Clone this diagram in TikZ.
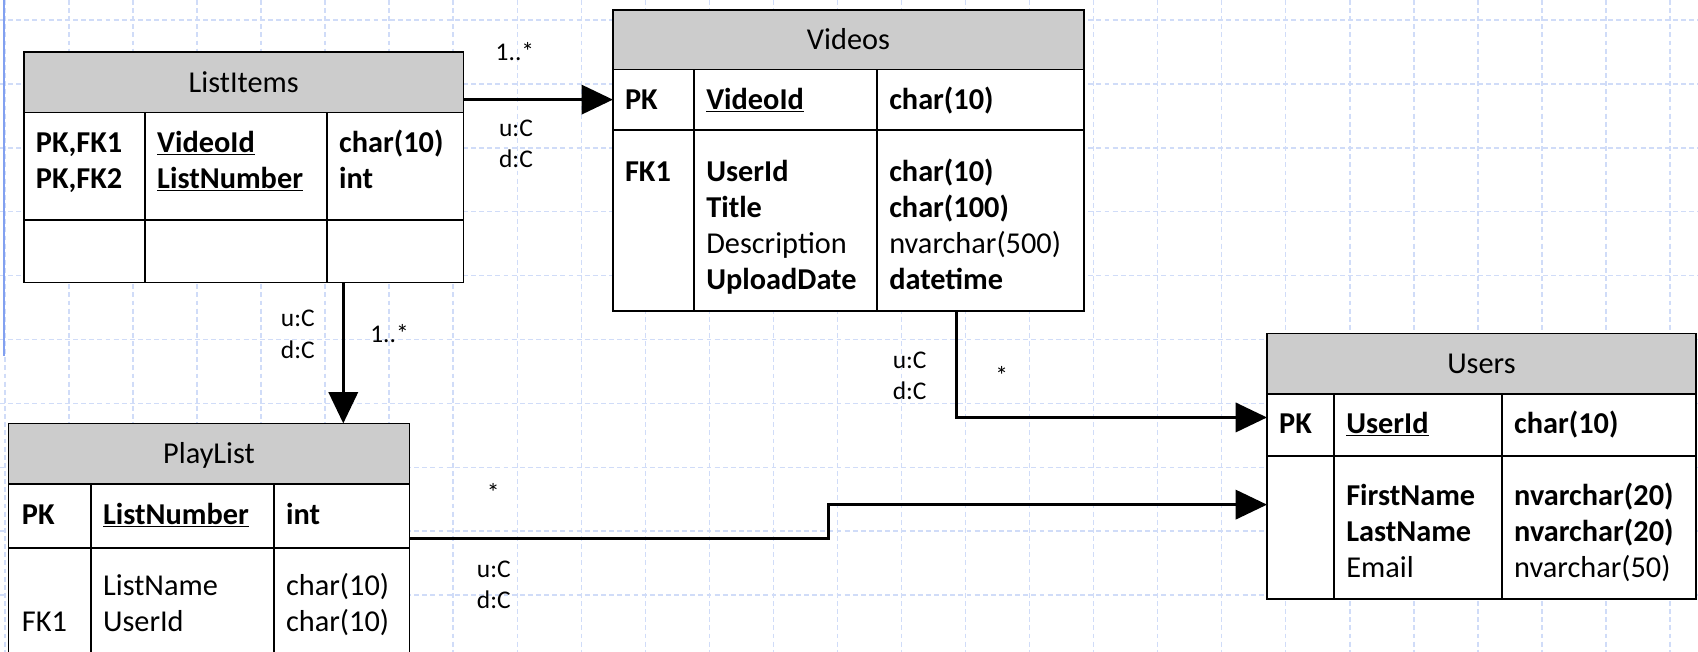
\documentclass[tikz,border=0pt]{standalone}
\usepackage{fontspec}
\setmainfont{Carlito}
\usetikzlibrary{arrows.meta}

\definecolor{headgray}{RGB}{204,204,204}
\definecolor{gridblue}{RGB}{208,220,248}
\definecolor{rulerblue}{RGB}{130,160,240}

\tikzset{
  cell/.style={draw, fill=white, line width=1.4pt, anchor=north west, inner sep=0pt, outer sep=0pt},
  head/.style={cell, fill=headgray, text height=18pt, text depth=0pt, font=\fontsize{28}{33}\selectfont},
  txt/.style={anchor=base west, inner sep=0pt, font=\fontsize{28}{33}\selectfont},
  key/.style={txt, font=\fontsize{28}{33}\selectfont\bfseries},
  lbl/.style={inner sep=0pt, align=left, font=\fontsize{23.5}{29}\selectfont},
  fk/.style={line width=2.8pt, -{Triangle[length=29pt,width=27pt]}},
  gridline/.style={draw=gridblue, line width=1.3pt, dash pattern=on 4.5pt off 3pt}
}

\begin{document}
\begin{tikzpicture}[x=1pt, y=-1pt]
\useasboundingbox (0,0) rectangle (1568,602);
\clip (0,0) rectangle (1568,602);
\fill[white] (0,0) rectangle (1568,602);

% page grid
\foreach \gx in {0,...,26}
  \draw[gridline] ({4.5+59.14*\gx},0) -- ({4.5+59.14*\gx},602);
\foreach \gy in {0,...,9}
  \draw[gridline] (0,{18.5+59*\gy}) -- (1568,{18.5+59*\gy});
\draw[rulerblue, line width=2pt] (3.7,0) -- (3.7,329);

% ListItems
\node[head, minimum width=406pt, minimum height=56pt] (li-head) at (22,48) {ListItems};
\node[cell, minimum width=112pt, minimum height=99pt] (li-k1) at (22,104) {};
\node[cell, minimum width=168pt, minimum height=99pt] (li-n1) at (134,104) {};
\node[cell, minimum width=126pt, minimum height=99pt] (li-t1) at (302,104) {};
\node[cell, minimum width=112pt, minimum height=58pt] (li-k2) at (22,203) {};
\node[cell, minimum width=168pt, minimum height=58pt] (li-n2) at (134,203) {};
\node[cell, minimum width=126pt, minimum height=58pt] (li-t2) at (302,203) {};
\node[key] (li-a) at (33,141) {PK,FK1};
\node[key] (li-b) at (33,174) {PK,FK2};
\node[key] (li-c) at (145,141) {\underline{VideoId}};
\node[key] (li-d) at (145,174) {\underline{ListNumber}};
\node[key] (li-e) at (313,141) {char(10)};
\node[key] (li-f) at (313,174) {int};

% Videos
\node[head, minimum width=435pt, minimum height=55pt] (vi-head) at (566,9) {Videos};
\node[cell, minimum width=75pt, minimum height=56pt] (vi-k1) at (566,64) {};
\node[cell, minimum width=169pt, minimum height=56pt] (vi-n1) at (641,64) {};
\node[cell, minimum width=191pt, minimum height=56pt] (vi-t1) at (810,64) {};
\node[cell, minimum width=75pt, minimum height=167pt] (vi-k2) at (566,120) {};
\node[cell, minimum width=169pt, minimum height=167pt] (vi-n2) at (641,120) {};
\node[cell, minimum width=191pt, minimum height=167pt] (vi-t2) at (810,120) {};
\node[key] (vi-a) at (577,101) {PK};
\node[key] (vi-b) at (652,101) {\underline{VideoId}};
\node[key] (vi-c) at (821,101) {char(10)};
\node[key] (vi-d) at (577,167.5) {FK1};
\node[key] (vi-e) at (652,167.5) {UserId};
\node[key] (vi-f) at (652,200.5) {Title};
\node[txt] (vi-g) at (652,234) {Description};
\node[key] (vi-h) at (652,267.5) {UploadDate};
\node[key] (vi-i) at (821,167.5) {char(10)};
\node[key] (vi-j) at (821,200.5) {char(100)};
\node[txt] (vi-k) at (821,234) {nvarchar(500)};
\node[key] (vi-l) at (821,267.5) {datetime};

% Users
\node[head, minimum width=396pt, minimum height=56pt] (us-head) at (1170,308) {Users};
\node[cell, minimum width=62pt, minimum height=57pt] (us-k1) at (1170,364) {};
\node[cell, minimum width=155pt, minimum height=57pt] (us-n1) at (1232,364) {};
\node[cell, minimum width=179pt, minimum height=57pt] (us-t1) at (1387,364) {};
\node[cell, minimum width=62pt, minimum height=132pt] (us-k2) at (1170,421) {};
\node[cell, minimum width=155pt, minimum height=132pt] (us-n2) at (1232,421) {};
\node[cell, minimum width=179pt, minimum height=132pt] (us-t2) at (1387,421) {};
\node[key] (us-a) at (1181,400) {PK};
\node[key] (us-b) at (1243,400) {\underline{UserId}};
\node[key] (us-c) at (1398,400) {char(10)};
\node[key] (us-d) at (1243,467) {FirstName};
\node[key] (us-e) at (1243,500) {LastName};
\node[txt] (us-f) at (1243,533) {Email};
\node[key] (us-g) at (1398,467) {nvarchar(20)};
\node[key] (us-h) at (1398,500) {nvarchar(20)};
\node[txt] (us-i) at (1398,533) {nvarchar(50)};

% PlayList
\node[head, minimum width=370pt, minimum height=56pt] (pl-head) at (8,391) {PlayList};
\node[cell, minimum width=76pt, minimum height=59pt] (pl-k1) at (8,447) {};
\node[cell, minimum width=169pt, minimum height=59pt] (pl-n1) at (84,447) {};
\node[cell, minimum width=125pt, minimum height=59pt] (pl-t1) at (253,447) {};
\node[cell, minimum width=76pt, minimum height=140pt] (pl-k2) at (8,506) {};
\node[cell, minimum width=169pt, minimum height=140pt] (pl-n2) at (84,506) {};
\node[cell, minimum width=125pt, minimum height=140pt] (pl-t2) at (253,506) {};
\node[key] (pl-a) at (20,484) {PK};
\node[key] (pl-b) at (95,484) {\underline{ListNumber}};
\node[key] (pl-c) at (264,484) {int};
\node[txt] (pl-d) at (20,583) {FK1};
\node[txt] (pl-e) at (95,550) {ListName};
\node[txt] (pl-f) at (95,583) {UserId};
\node[txt] (pl-g) at (264,550) {char(10)};
\node[txt] (pl-h) at (264,583) {char(10)};

% relationships
\draw[fk] (li-head.east |- vi-k1.west) -- (vi-k1.west);
\draw[fk] ([xshift=15pt]li-t2.south west) -- ([xshift=15pt]li-t2.south west |- pl-head.north);
\draw[fk] ([xshift=73pt]vi-t2.south west) |- ([yshift=7pt]us-k1.west);
\draw[fk] ([yshift=-21pt]pl-t1.east) -- ++(387,0) |- ([yshift=21pt]us-k2.west);

\node[lbl] (m1) at (475.5,47.3) {1..*};
\node[lbl] (c1) at (476.5,132.6) {u:C\\d:C};
\node[lbl] (c2) at (275,308.9) {u:C\\d:C};
\node[lbl] (m2) at (359.7,308.3) {1..*};
\node[lbl] (c3) at (840,347.3) {u:C\\d:C};
\node[lbl] (m3) at (925,346.4) {*};
\node[lbl] (m4) at (455.5,454.8) {*};
\node[lbl] (c4) at (456,540) {u:C\\d:C};
\end{tikzpicture}
\end{document}
